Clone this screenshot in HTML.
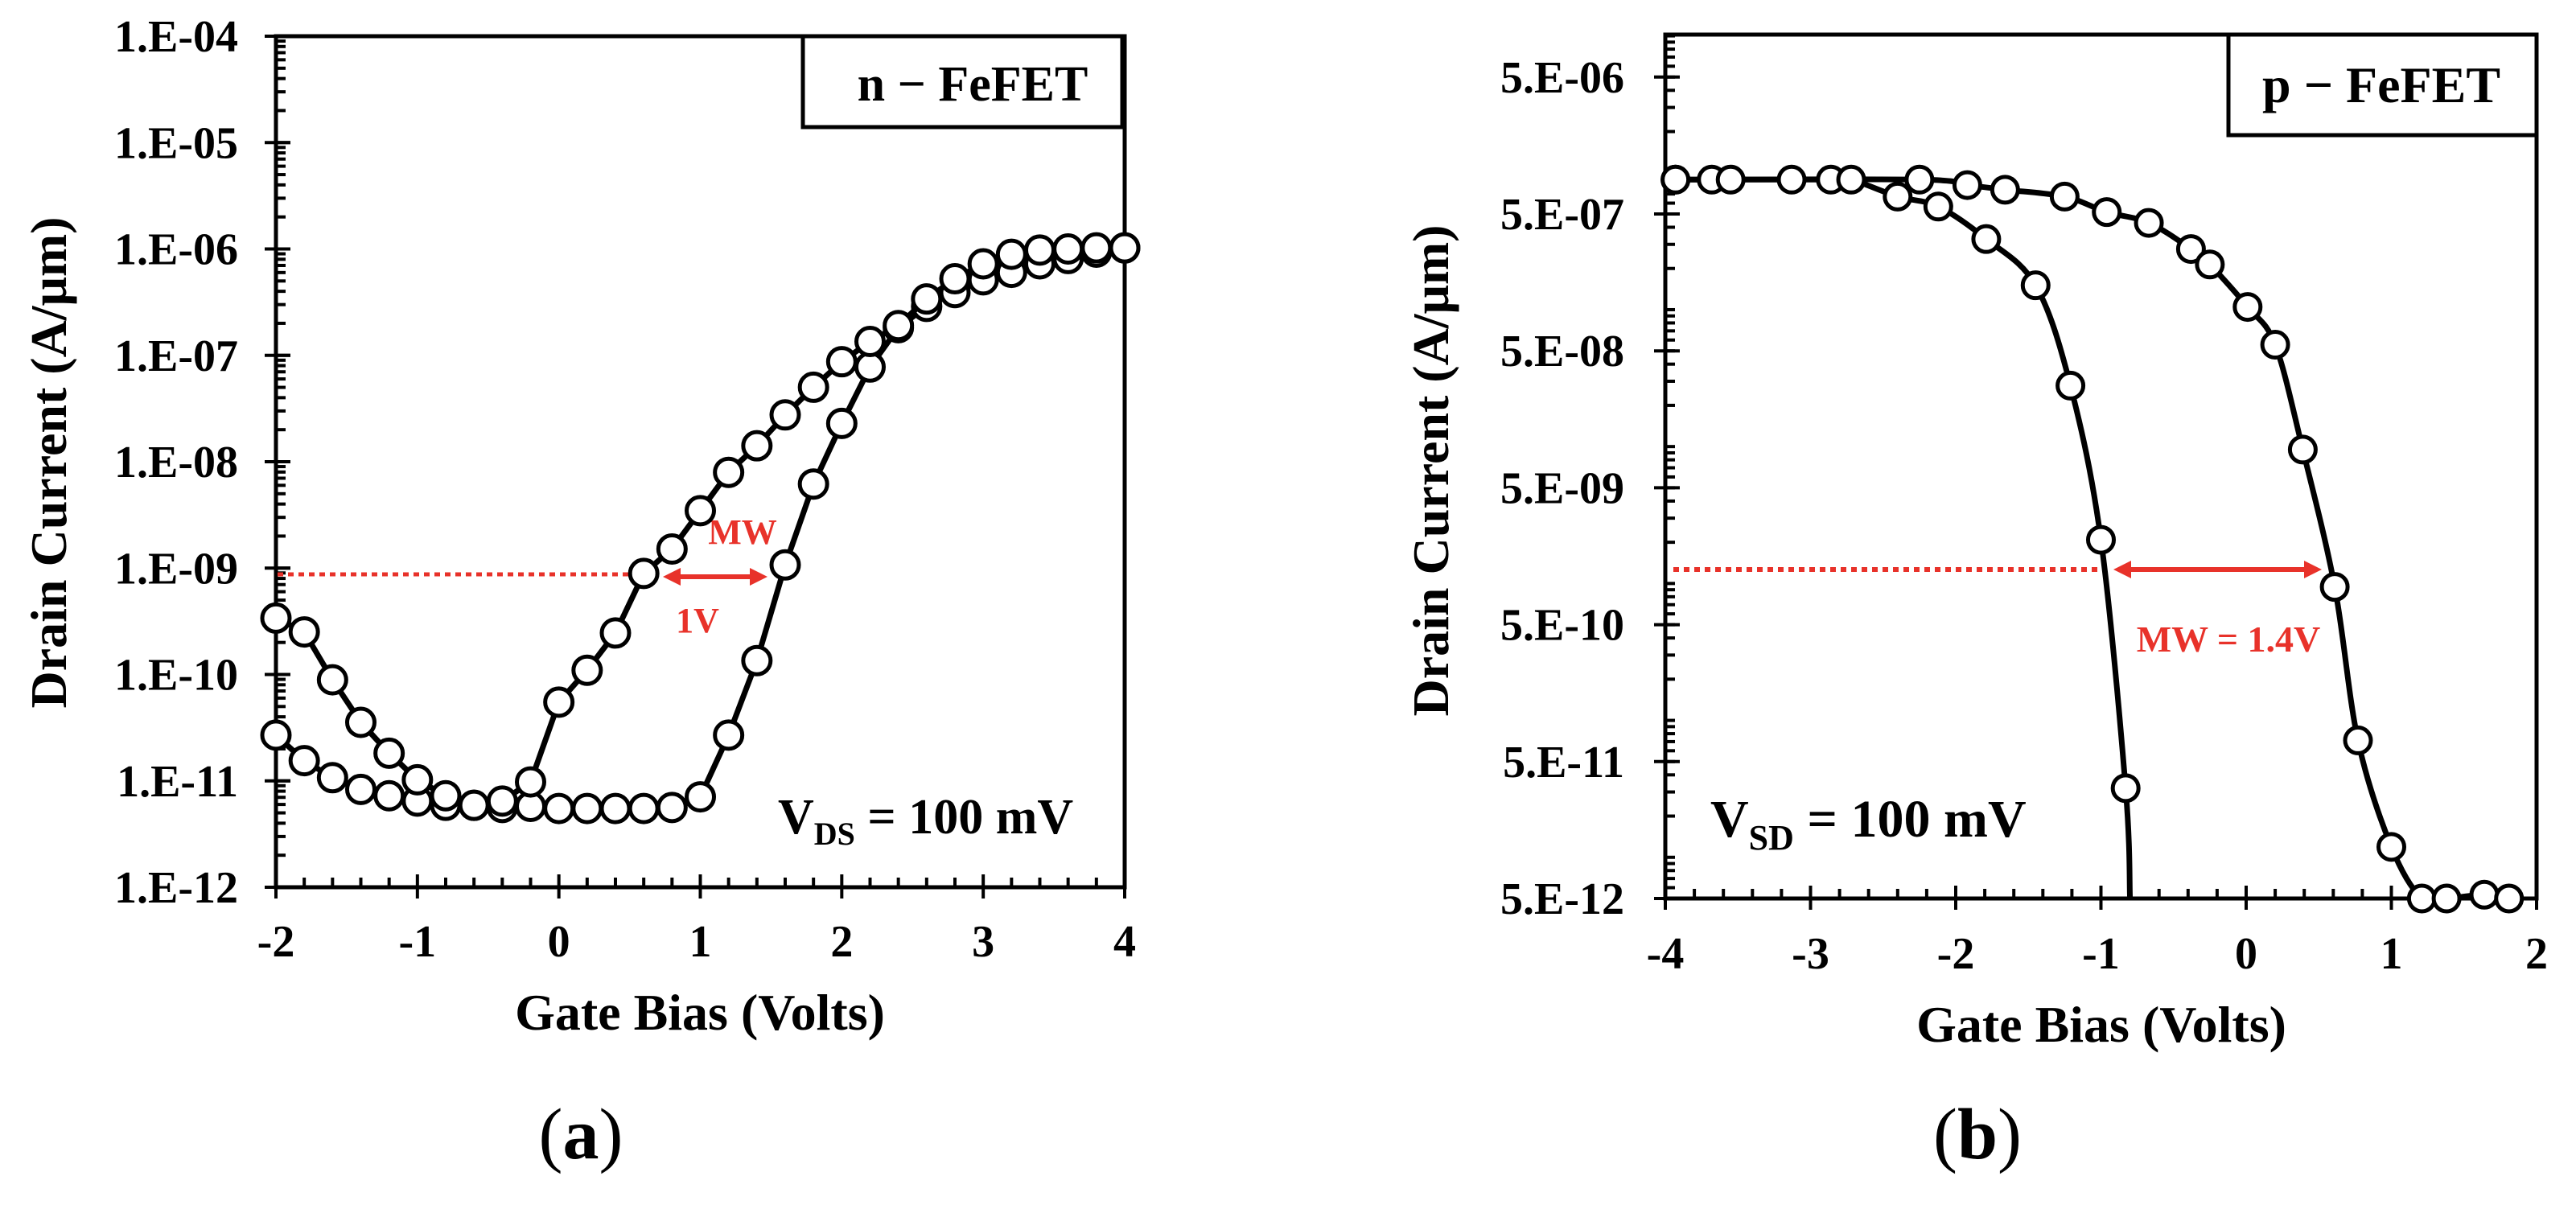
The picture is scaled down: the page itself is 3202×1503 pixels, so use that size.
<!DOCTYPE html>
<html><head><meta charset="utf-8">
<style>
html,body{margin:0;padding:0;background:#fff;}
svg{display:block;font-family:"Liberation Serif",serif;}
</style></head>
<body>
<svg id="fig" width="3202" height="1503" viewBox="0 0 3202 1503">
<g id="ga"></g>
<g id="gb"></g>
</svg>
<script>
// ---- Panel (a) data: gate bias (V) and log10 drain current
const aX = [-2,-1.8,-1.6,-1.4,-1.2,-1,-0.8,-0.6,-0.4,-0.2,0,0.2,0.4,0.6,0.8,1,1.2,1.4,1.6,1.8,2,2.2,2.4,2.6,2.8,3,3.2,3.4,3.6,3.8,4];
const aUpper = [-9.47,-9.60,-10.05,-10.45,-10.74,-10.99,-11.14,-11.23,-11.19,-11.01,-10.26,-9.96,-9.61,-9.05,-8.82,-8.46,-8.10,-7.85,-7.56,-7.30,-7.06,-6.87,-6.72,-6.47,-6.28,-6.14,-6.05,-6.01,-6.00,-5.99,-5.99];
const aLower = [-10.57,-10.81,-10.97,-11.08,-11.14,-11.19,-11.23,-11.23,-11.25,-11.24,-11.26,-11.26,-11.26,-11.26,-11.25,-11.15,-10.57,-9.87,-8.97,-8.21,-7.64,-7.11,-6.74,-6.54,-6.41,-6.29,-6.22,-6.14,-6.09,-6.03,-5.99];
const aYTicks = ["1.E-12","1.E-11","1.E-10","1.E-09","1.E-08","1.E-07","1.E-06","1.E-05","1.E-04"];
const aXTicks = [-2,-1,0,1,2,3,4];
// ---- Panel (b) data
const b1X = [-3.93,-3.68,-3.55,-3.13,-2.86,-2.72,-2.40,-2.12,-1.79,-1.45,-1.21,-1.00,-0.83,-0.80];
const b1Y = [-6.05,-6.05,-6.05,-6.05,-6.05,-6.05,-6.174,-6.247,-6.484,-6.822,-7.555,-8.681,-10.495,-11.301];
const b2X = [-3.93,-2.25,-1.92,-1.66,-1.25,-0.96,-0.67,-0.38,-0.25,0.01,0.20,0.39,0.61,0.77,1.00,1.21,1.38,1.64,1.81];
const b2Y = [-6.05,-6.05,-6.090,-6.124,-6.174,-6.287,-6.366,-6.557,-6.670,-6.980,-7.256,-8.022,-9.025,-10.146,-10.924,-11.301,-11.301,-11.273,-11.301];
const bYTicks = ["5.E-12","5.E-11","5.E-10","5.E-09","5.E-08","5.E-07","5.E-06"];
const bXTicks = [-4,-3,-2,-1,0,1,2];

const NS="http://www.w3.org/2000/svg";
function mk(parent,tag,attrs,text){const e=document.createElementNS(NS,tag);for(const k in attrs)e.setAttribute(k,attrs[k]);if(text!==undefined)e.textContent=text;parent.appendChild(e);return e;}

// ---------- Panel A ----------
const ga=document.getElementById('ga');
const A={l:343,r:1398,t:45,b:1103,x0:-2,x1:4,y0:-12,y1:-4};
const ax=v=>A.l+(v-A.x0)/(A.x1-A.x0)*(A.r-A.l);
const ay=v=>A.b-(v-A.y0)/(A.y1-A.y0)*(A.b-A.t);
let t;
t=mk(ga,'rect',{x:A.l,y:A.t,width:A.r-A.l,height:A.b-A.t,fill:'none',stroke:'#000','stroke-width':5});


for(let d=-12;d<-4;d++){for(let m=1;m<10;m++){const v=d+Math.log10(m);const y=ay(v);const len=m===1?18:12;
  let tk=mk(ga,'line',{x1:A.l,x2:A.l+len,y1:y,y2:y,stroke:'#000','stroke-width':4});
  
  }}
aYTicks.forEach((s,i)=>{const y=ay(-12+i);
  let tk=mk(ga,'line',{x1:A.l-14,x2:A.l+18,y1:y,y2:y,stroke:'#000','stroke-width':4});
  
  
  let tl=mk(ga,'text',{x:296,y:y+19,'text-anchor':'end','font-size':56,'font-weight':'bold'},s);
  
  });
for(let v=-2;v<=4.0001;v+=0.2){const x=ax(v);const major=Math.abs(v-Math.round(v))<1e-6;
  let tk=mk(ga,'line',{x1:x,x2:x,y1:A.b+(major?14:0),y2:A.b-(major?16:12),stroke:'#000','stroke-width':4});
  
  }
aXTicks.forEach(v=>{let tl=mk(ga,'text',{x:ax(v),y:1189,'text-anchor':'middle','font-size':56,'font-weight':'bold'},String(v));
  
  });
t=mk(ga,'text',{x:870,y:1280,'text-anchor':'middle','font-size':64,'font-weight':'bold'},'Gate Bias (Volts)');


t=mk(ga,'text',{x:0,y:0,'text-anchor':'middle','font-size':64,'font-weight':'bold',transform:'translate(82,575) rotate(-90)'},'Drain Current (A/μm)');


t=mk(ga,'text',{x:722,y:1440,'text-anchor':'middle','font-size':90});


t.innerHTML='(<tspan font-weight="bold">a</tspan>)';
t=mk(ga,'rect',{x:998,y:45,width:397,height:113,fill:'#fff',stroke:'#000','stroke-width':5});


t=mk(ga,'text',{x:1209,y:125,'text-anchor':'middle','font-size':62,'font-weight':'bold'},'n  − FeFET');


t=mk(ga,'line',{x1:345,x2:792,y1:714,y2:714,stroke:'#e8322a','stroke-width':5,'stroke-dasharray':'7 6'});


function arrow(g,x1,x2,y,name){let e=mk(g,'g',{});
  
  
  mk(e,'line',{x1:x1+14,x2:x2-14,y1:y,y2:y,stroke:'#e8322a','stroke-width':6});
  mk(e,'polygon',{points:`${x1},${y} ${x1+22},${y-11} ${x1+22},${y+11}`,fill:'#e8322a'});
  mk(e,'polygon',{points:`${x2},${y} ${x2-22},${y-11} ${x2-22},${y+11}`,fill:'#e8322a'});}
arrow(ga,824,954,717,'memory-window-arrow');
t=mk(ga,'text',{x:923,y:676,'text-anchor':'middle','font-size':44,'font-weight':'bold',fill:'#e8322a'},'MW');


t=mk(ga,'text',{x:867,y:786,'text-anchor':'middle','font-size':44,'font-weight':'bold',fill:'#e8322a'},'1V');


t=mk(ga,'text',{x:967,y:1036,'font-size':62,'font-weight':'bold'});


t.innerHTML='V<tspan font-size="40" dy="14">DS</tspan><tspan dy="-14"> = 100 mV</tspan>';
function series(g,xs,ys,fx,fy,name,smooth,r,skipLast){
  const p=xs.map((v,i)=>[fx(v),fy(ys[i])]);
  let d='M'+p[0][0]+','+p[0][1];
  if(!smooth){for(let i=1;i<p.length;i++)d+='L'+p[i][0]+','+p[i][1];}
  else{for(let i=0;i<p.length-1;i++){const p0=p[i-1]||p[i],p1=p[i],p2=p[i+1],p3=p[i+2]||p2;
    d+=`C${p1[0]+(p2[0]-p0[0])/6},${p1[1]+(p2[1]-p0[1])/6} ${p2[0]-(p3[0]-p1[0])/6},${p2[1]-(p3[1]-p1[1])/6} ${p2[0]},${p2[1]}`;}}
  let pa=mk(g,'path',{d:d,fill:'none',stroke:'#000','stroke-width':7,'stroke-linejoin':'round'});
  
  
  p.forEach((q,i)=>{if(skipLast&&i===p.length-1)return;let c=mk(g,'circle',{cx:q[0],cy:q[1],r:r,fill:'#fff',stroke:'#000','stroke-width':5});
    
    });
}
series(ga,aX,aLower,ax,ay,'reverse-sweep',false,17,false);
series(ga,aX,aUpper,ax,ay,'forward-sweep',false,17,false);

// ---------- Panel B ----------
const gb=document.getElementById('gb');
const B={l:2070,r:3153,t:43,b:1117,x0:-4,x1:2,y0:-11.301};
const bDec=170.2;
B.y1=B.y0+(B.b-B.t)/bDec;
const bx=v=>B.l+(v-B.x0)/(B.x1-B.x0)*(B.r-B.l);
const by=v=>B.b-(v-B.y0)*bDec;
t=mk(gb,'rect',{x:B.l,y:B.t,width:B.r-B.l,height:B.b-B.t,fill:'none',stroke:'#000','stroke-width':5});


for(let d=-13;d<-4;d++){for(let m=1;m<10;m++){const v=d+Math.log10(m);if(v<B.y0-0.001||v>B.y1)continue;const y=by(v);
  let tk=mk(gb,'line',{x1:B.l,x2:B.l+12,y1:y,y2:y,stroke:'#000','stroke-width':4});
  
  }}
bYTicks.forEach((s,i)=>{const y=by(B.y0+i);
  let tk=mk(gb,'line',{x1:B.l-14,x2:B.l+18,y1:y,y2:y,stroke:'#000','stroke-width':4});
  
  
  let tl=mk(gb,'text',{x:2019,y:y+19,'text-anchor':'end','font-size':56,'font-weight':'bold'},s);
  
  });
for(let v=-4;v<=2.0001;v+=0.2){const x=bx(v);const major=Math.abs(v-Math.round(v))<1e-6;
  let tk=mk(gb,'line',{x1:x,x2:x,y1:B.b+(major?14:0),y2:B.b-(major?16:12),stroke:'#000','stroke-width':4});
  
  }
bXTicks.forEach(v=>{let tl=mk(gb,'text',{x:bx(v),y:1204,'text-anchor':'middle','font-size':56,'font-weight':'bold'},String(v));
  
  });
t=mk(gb,'text',{x:2612,y:1295,'text-anchor':'middle','font-size':64,'font-weight':'bold'},'Gate Bias (Volts)');


t=mk(gb,'text',{x:0,y:0,'text-anchor':'middle','font-size':64,'font-weight':'bold',transform:'translate(1800,585) rotate(-90)'},'Drain Current (A/μm)');


t=mk(gb,'text',{x:2458,y:1440,'text-anchor':'middle','font-size':90});


t.innerHTML='(<tspan font-weight="bold">b</tspan>)';
t=mk(gb,'rect',{x:2770,y:43,width:383,height:125,fill:'#fff',stroke:'#000','stroke-width':5});


t=mk(gb,'text',{x:2960,y:127,'text-anchor':'middle','font-size':64,'font-weight':'bold'},'p − FeFET');


t=mk(gb,'line',{x1:2080,x2:2612,y1:708,y2:708,stroke:'#e8322a','stroke-width':6,'stroke-dasharray':'7 6'});


arrow(gb,2627,2886,708,'memory-window-arrow');
t=mk(gb,'text',{x:2770,y:810,'text-anchor':'middle','font-size':46,'font-weight':'bold',fill:'#e8322a'},'MW = 1.4V');


t=mk(gb,'text',{x:2126,y:1040,'font-size':66,'font-weight':'bold'});


t.innerHTML='V<tspan font-size="44" dy="16">SD</tspan><tspan dy="-16"> = 100 mV</tspan>';
series(gb,b2X,b2Y,bx,by,'forward-sweep',true,16,false);
series(gb,b1X,b1Y,bx,by,'reverse-sweep',true,16,true);
</script>
</body></html>
